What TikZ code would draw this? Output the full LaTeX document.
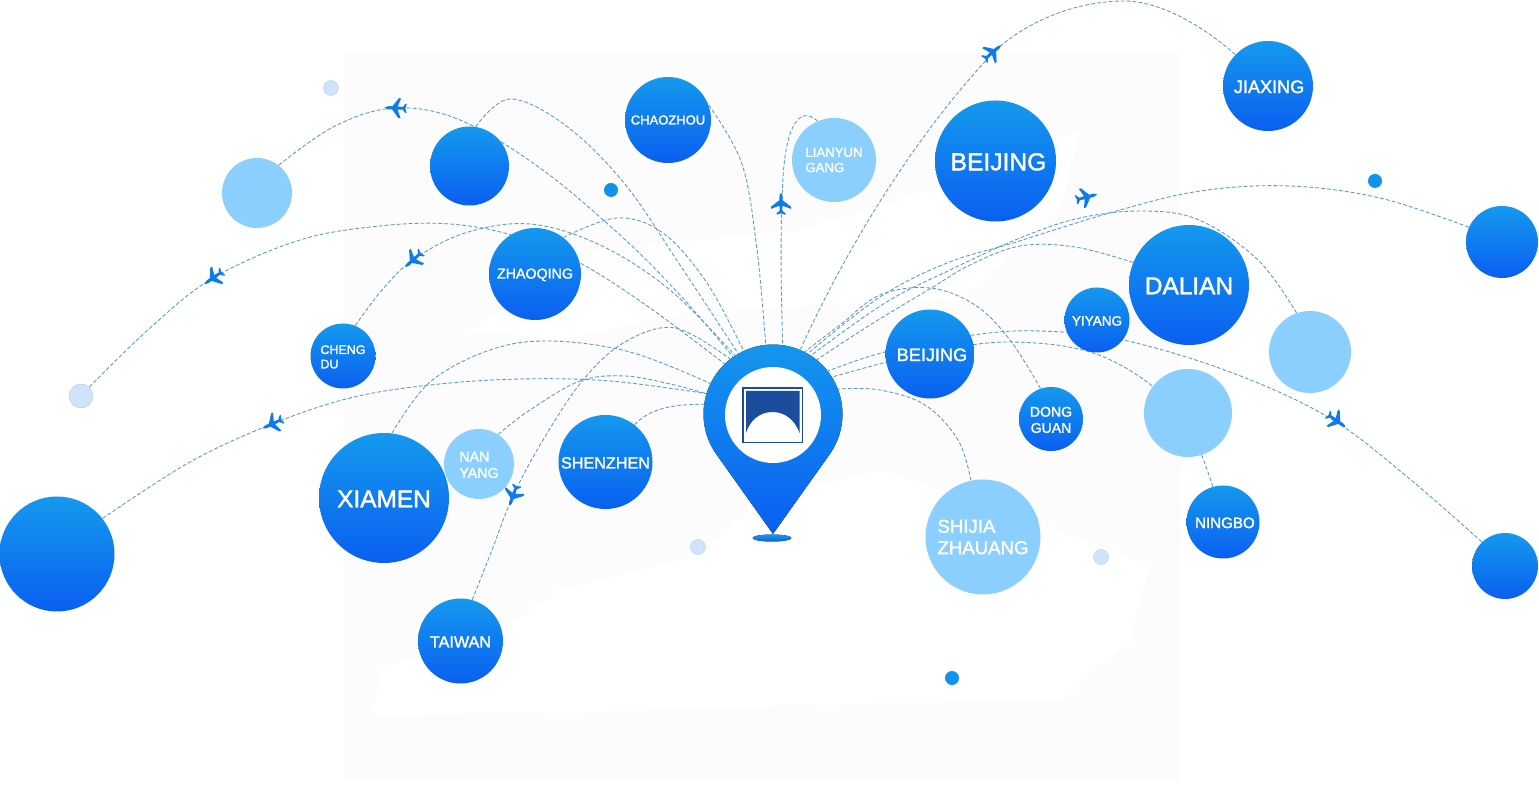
\documentclass[tikz,border=0pt]{standalone}
\usepackage{fontspec}
\setmainfont[RawFeature={embolden=1.6}]{Liberation Sans}
\usetikzlibrary{backgrounds}
\definecolor{pintop}{HTML}{1499EE}
\definecolor{pinlow}{HTML}{0A5FF0}
\definecolor{paleblue}{HTML}{8BCFFF}
\definecolor{dotpale}{HTML}{CFE3FA}
\definecolor{dotblue}{HTML}{0F93EE}
\definecolor{routeblue}{HTML}{5C9BCB}
\definecolor{planeblue}{HTML}{0E7BEC}
\definecolor{logoblue}{HTML}{1C4C9C}
\definecolor{mapgray}{HTML}{FCFCFC}
\def\cityfont#1{\fontsize{#1}{\dimexpr#1pt*115/100\relax}\selectfont}
\def\low#1{\raisebox{-.5pt}[\height][\depth]{#1}}
\tikzset{
  bluecity/.style={circle,inner sep=0pt,top color=pintop,bottom color=pinlow,text=white,align=center,minimum size=#1*0.02cm},
  palecity/.style={circle,inner sep=0pt,fill=paleblue,text=white,align=left,minimum size=#1*0.02cm},
  route/.style={routeblue,line width=.5pt,dash pattern=on 2.2pt off 1.2pt},
  planeicon/.pic={
    \fill[planeblue,scale=.9] (11.5,0) .. controls (10,-1.8) and (8,-1.8) .. (3,-1.8) -- (-4,-11) -- (-6.5,-11) -- (-3,-1.8)
      -- (-8.5,-1.4) -- (-11.5,-5) -- (-13,-5) -- (-11.5,0) -- (-13,5) -- (-11.5,5) -- (-8.5,1.4)
      -- (-3,1.8) -- (-6.5,11) -- (-4,11) -- (3,1.8) .. controls (8,1.8) and (10,1.8) .. (11.5,0) -- cycle;
  }
}
\begin{document}
\begin{tikzpicture}[x=0.02cm,y=-0.02cm]
  \useasboundingbox (0,0) rectangle (1539,786);

  % cities
  \node[bluecity=115] (bigleft) at (57,554) {};
  \node[bluecity=130,font=\cityfont{13.9}] (xiamen) at (384,498) {\low{XIAMEN}};
  \node[palecity=70,font=\cityfont{8.1}] (nanyang) at (479,464) {\low{NAN}\\\low{YANG}\hspace{3.4pt}};
  \node[bluecity=94,font=\cityfont{9.2}] (shenzhen) at (605.5,462) {\low{SHENZHEN}};
  \node[bluecity=85,font=\cityfont{9.2}] (taiwan) at (460.5,641) {\low{TAIWAN}};
  \node[bluecity=65,align=left,font=\cityfont{7.1}] (chengdu) at (343,356) {\low{CHENG}\\\low{DU}};
  \node[bluecity=92,font=\cityfont{8.1}] (zhaoqing) at (535,274) {\low{ZHAOQING}};
  \node[bluecity=79] (blankcity) at (469.5,166) {};
  \node[palecity=70] (skylight) at (257,193) {};
  \node[bluecity=86,font=\cityfont{7.4}] (chaozhou) at (668,120) {CHAOZHOU};
  \node[palecity=84,font=\cityfont{7.5}] (lianyun) at (834,160) {LIANYUN\\GANG};
  \node[bluecity=121,font=\cityfont{14}] (beijing) at (995.5,161) {\low{\hspace{3.4pt}BEIJING}};
  \node[bluecity=90,font=\cityfont{10.3}] (jiaxing) at (1268,86) {\low{\hspace{1.2pt}JIAXING}};
  \node[bluecity=89,font=\cityfont{10.3}] (beijingtwo) at (930,354) {\low{\hspace{2.2pt}BEIJING}};
  \node[bluecity=65,font=\cityfont{7.7}] (yiyang) at (1097,320) {\low{YIYANG}};
  \node[bluecity=120,font=\cityfont{13.9}] (dalian) at (1189,285) {\low{DALIAN}};
  \node[palecity=82] (lightright) at (1310,352) {};
  \node[palecity=88] (lightmid) at (1188,413) {};
  \node[bluecity=64,font=\cityfont{8}] (dongguan) at (1051,419) {\low{DONG}\\\low{GUAN}};
  \node[bluecity=73,font=\cityfont{8.6}] (ningbo) at (1223,522) {\low{\hspace{2.2pt}NINGBO}};
  \node[palecity=115,font=\cityfont{10.6}] (shijia) at (983,537) {SHIJIA\\ZHAUANG};
  \node[bluecity=72] (farright) at (1502,242) {};
  \node[bluecity=66] (lowright) at (1505,566) {};
  \node[circle,inner sep=0pt,minimum size=24*0.02cm,fill=dotpale,draw=dotpale!85!gray,line width=.3pt] (fardot) at (81,396) {};

  % small dots
  \foreach \x/\y in {331/88,698/547,1101/557}
    \fill[dotpale,draw=dotpale!85!gray,line width=.3pt] (\x,\y) circle (7.5);
  \foreach \x/\y in {611/190,1375/181,952/678}
    \fill[dotblue] (\x,\y) circle (7);

  % the marker
  \node[circle,inner sep=0pt,minimum size=139*0.02cm] (pin) at (773,414) {};
  \fill[top color=pintop,bottom color=pinlow] (773,534) -- (716.3,454.2) arc[start angle=144.7,end angle=395.3,radius=69.5] -- cycle;
  \fill[white] (773,415) circle (48);
  \fill[top color=pintop,bottom color=pinlow] (772,538) ellipse (19.5 and 3.5);
  \draw[logoblue,line width=.8pt] (743,388) rectangle (802.5,442.5);
  \fill[logoblue] (746,391) -- (799.5,391) -- (799.5,433) .. controls (795,420) and (785,412) .. (772.5,412) .. controls (760,412) and (750,420) .. (746,433) -- cycle;

  % planes
  \foreach \x/\y/\r in {395/108/178,213/278/215,413/260/222,272/424/205,513/496/250,781/203/90,993/52/40,1087/197/15,1337/421/-35}
    \pic[rotate=\r] at (\x,\y) {planeicon};

  \begin{pgfonlayer}{background}
    \fill[white] (0,0) rectangle (1539,786);
    \fill[mapgray] (344,53) rectangle (1180,781);
    \fill[white] (370,715) -- (385,665) -- (470,650) -- (560,590) -- (700,555) -- (760,500) -- (880,470) -- (1030,520) -- (1150,565) -- (1130,640) -- (1060,700) -- (800,705) -- (600,712) -- cycle;
    \fill[white] (470,330) -- (600,250) -- (800,230) -- (900,200) -- (1080,130) -- (1060,210) -- (960,300) -- (700,310) -- (560,340) -- cycle;

    % routes towards the marker
    \draw[route] plot[smooth,tension=.6] coordinates {(bigleft.38) (190,462) (272,424) (350,398) (430,385) (520,379) (610,381) (pin.163)};
    \draw[route] plot[smooth,tension=.6] coordinates {(xiamen.83) (430,382) (490,350) (550,341) (630,352) (pin.154)};
    \draw[route] plot[smooth,tension=.6] coordinates {(nanyang.57) (530,410) (580,381) (625,376) (670,384) (pin.163)};
    \draw[route] (shenzhen.52) .. controls (650,408) and (675,404) .. (pin.172);
    \draw[route] plot[smooth,tension=.6] coordinates {(taiwan.74) (492,550) (513,496) (543,440) (583,380) (625,342) (675,328) (pin.128)};
    \draw[route] plot[smooth,tension=.6] coordinates {(fardot.47) (150,328) (213,278) (300,240) (380,226) (450,224) (515,236) (580,263) (650,308) (pin.134)};
    \draw[route] plot[smooth,tension=.6] coordinates {(chengdu.68) (382,290) (413,260) (465,233) (530,224) (600,245) (670,290) (pin.123)};
    \draw[route] plot[smooth,tension=.6] coordinates {(zhaoqing.52) (617,218) (663,233) (707,283) (pin.115)};
    \draw[route] plot[smooth,tension=.6] coordinates {(skylight.52) (335,126) (395,108) (460,120) (540,168) (620,235) (680,295) (pin.125)};
    \draw[route] plot[smooth,tension=.6] coordinates {(blankcity.81) (510,99) (565,125) (624,183) (680,265) (pin.120)};
    \draw[route] plot[smooth,tension=.6] coordinates {(chaozhou.20) (742,164) (757,250) (pin.96)};
    \draw[route] (lianyun.113) .. controls (800,105) and (786,125) .. (783,178) .. controls (780,230) and (781,290) .. (pin.82);
    \draw[route] (jiaxing.136) .. controls (1190,15) and (1150,1) .. (1125,1) .. controls (1060,1) and (1010,35) .. (993,53) .. controls (920,130) and (850,240) .. (pin.67);
    \draw[route] plot[smooth,tension=.6] coordinates {(dalian.158) (1075,247) (1020,246) (970,265) (933,287) (870,325) (pin.51)};
    \draw[route] plot[smooth,tension=.6] coordinates {(lightright.109) (1258,260) (1199,220) (1143,211) (1080,218) (1020,238) (950,270) (885,303) (pin.57)};
    \draw[route] plot[smooth,tension=.6] coordinates {(farright.156) (1380,198) (1290,186) (1200,191) (1113,212) (1013,243) (947,263) (880,297) (pin.60)};
    \draw[route] plot[smooth,tension=.6] coordinates {(dongguan.109) (1010,340) (975,305) (930,288) (880,295) (840,325) (pin.63)};
    \draw[route] plot[smooth,tension=.6] coordinates {(lowright.134) (1405,475) (1328,417) (1230,372) (1123,340) (1040,331) (973,335) (885,352) (pin.38)};
    \draw[route] plot[smooth,tension=.6] coordinates {(ningbo.106) (1190,430) (1151,385) (1090,352) (1013,342) (945,349) (887,362) (pin.32)};
    \draw[route] plot[smooth,tension=.6] coordinates {(shijia.102) (958,440) (925,405) (880,390) (pin.21)};
  \end{pgfonlayer}
\end{tikzpicture}
\end{document}
